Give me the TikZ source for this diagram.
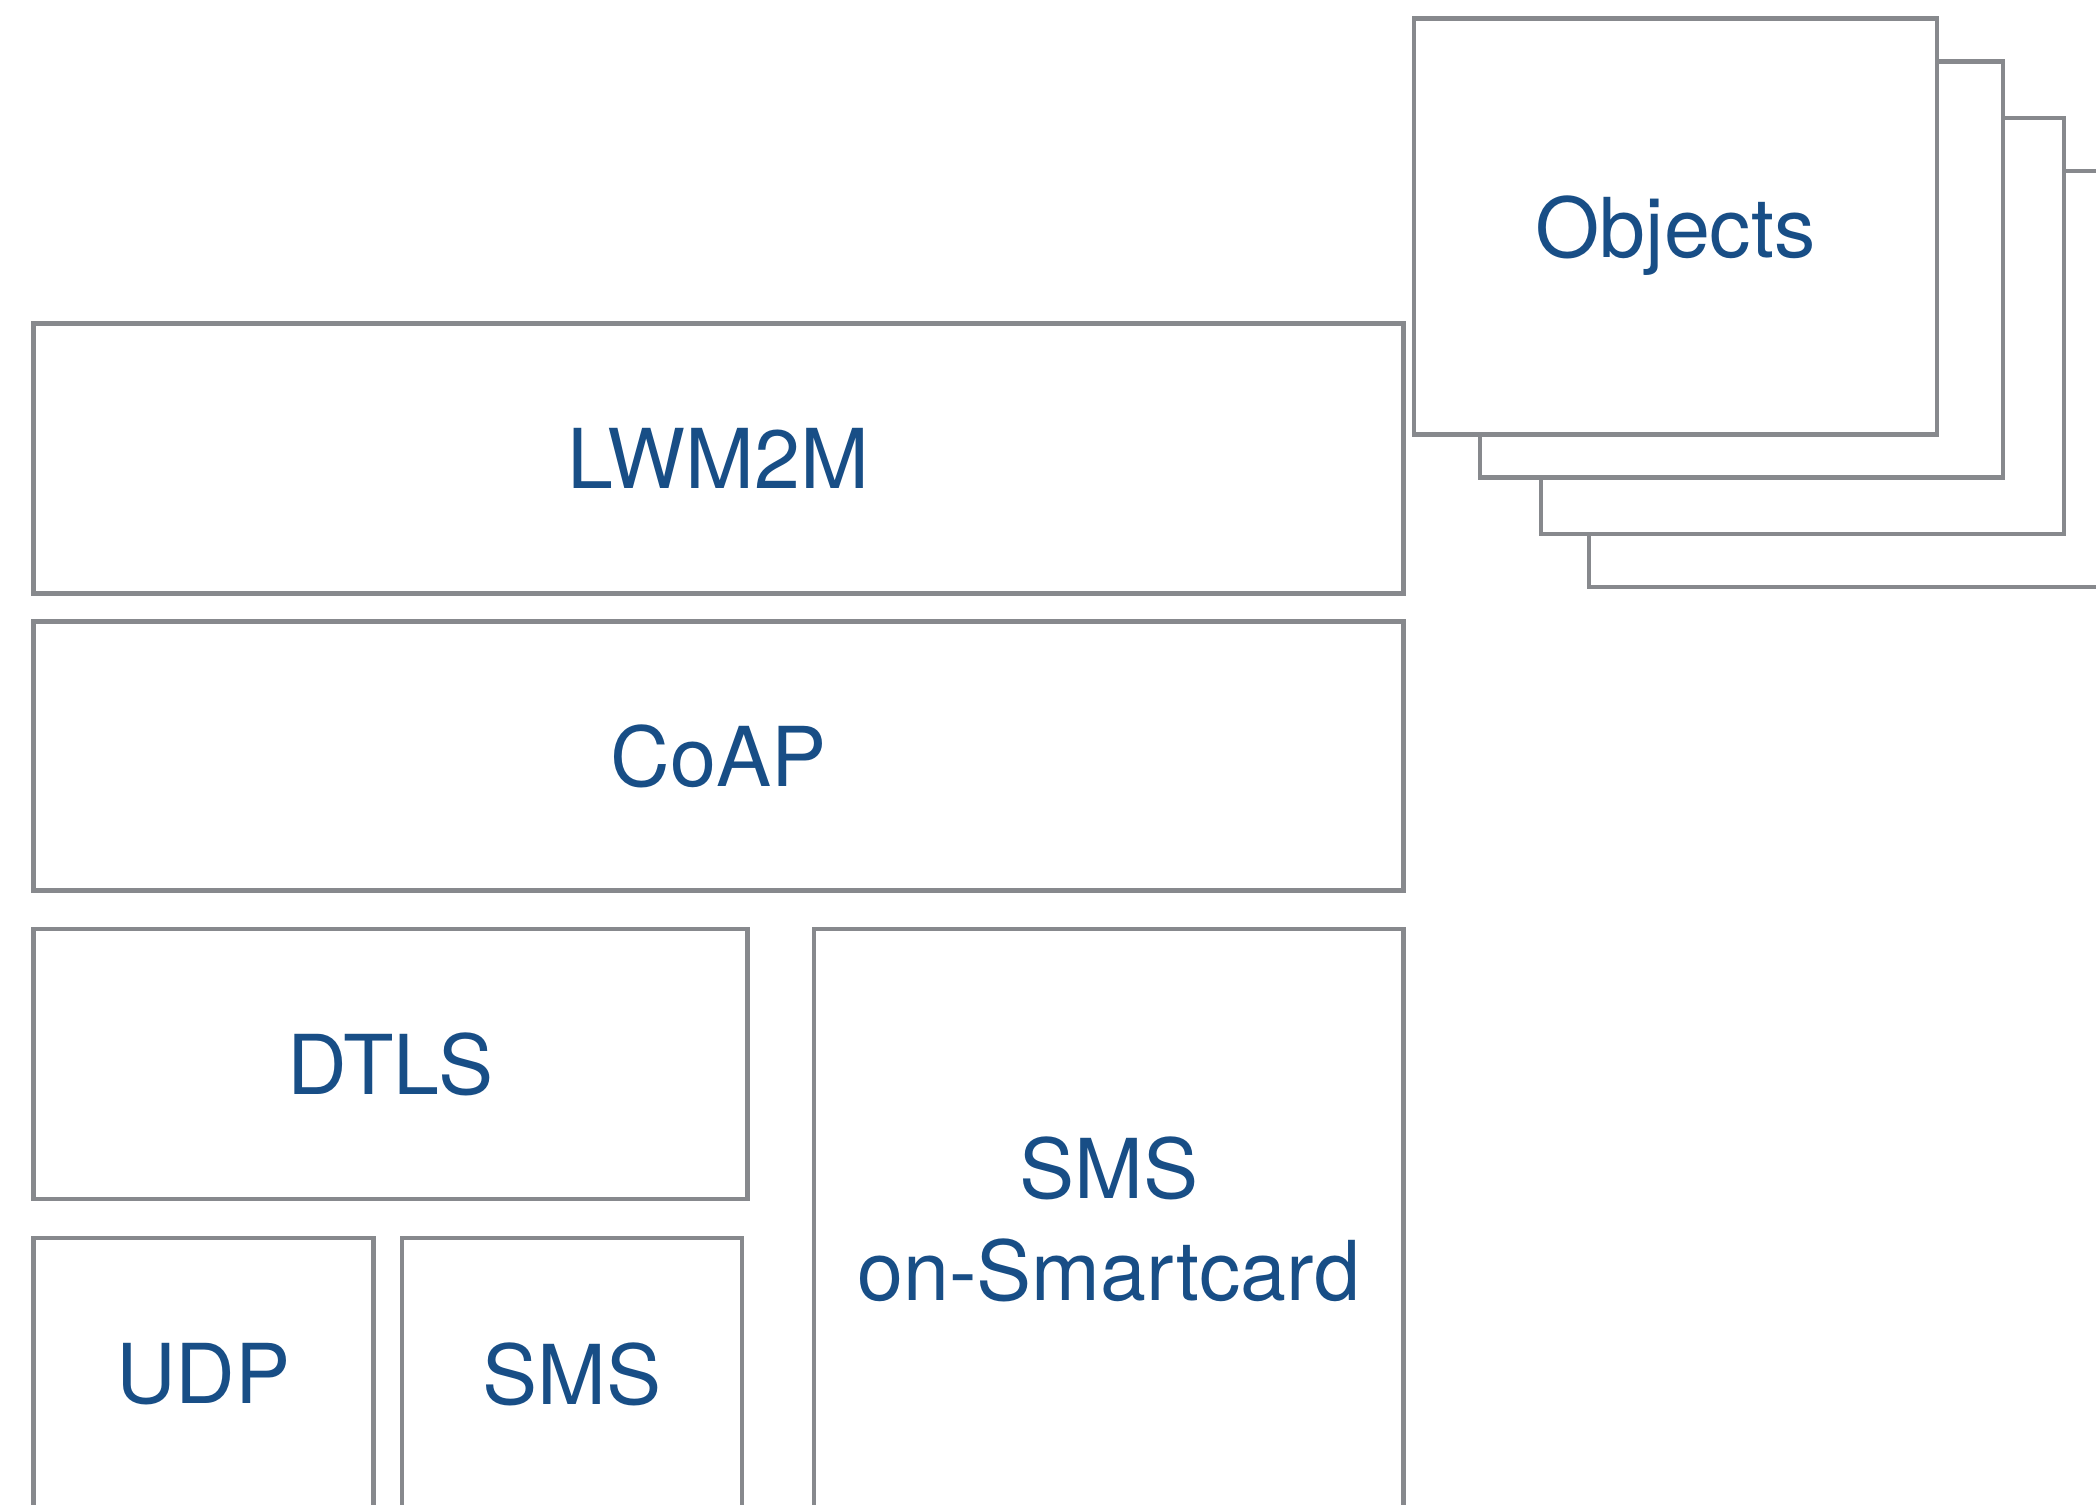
\documentclass[tikz,border=0pt]{standalone}
\usepackage{fontspec}
\setmainfont{TeX Gyre Heros}
\usepackage{tikz}
\definecolor{layergray}{RGB}{135,137,141}
\definecolor{layerblue}{RGB}{24,78,134}

\begin{document}
\begin{tikzpicture}[
    layer/.style={draw=layergray, line width=1.4pt, fill=white, inner sep=0pt, outer sep=0pt,
        anchor=north west, text=layerblue, align=center,
        font=\fontsize{23.5}{29}\selectfont},
]
    \useasboundingbox (0,0) rectangle (20.96,-15.04);
    \clip (0,0) rectangle (20.96,-15.04);

    % Stack of objects, back to front
    \node[layer, minimum width=5.23cm, minimum height=4.16cm] (obj4) at (15.89,-1.71) {};
    \node[layer, minimum width=5.23cm, minimum height=4.16cm] (obj3) at (15.41,-1.18) {};
    \node[layer, minimum width=5.23cm, minimum height=4.16cm] (obj2) at (14.80,-0.615) {};
    \node[layer, minimum width=5.23cm, minimum height=4.16cm, text depth=0pt] (obj1) at (14.14,-0.187) {Objects};

    % Upper layers
    \node[layer, minimum width=13.70cm, minimum height=2.70cm] (lwm2m) at (0.334,-3.235) {LWM2M};
    \node[layer, minimum width=13.70cm, minimum height=2.69cm] (coap) at (0.334,-6.216) {CoAP};

    % Security and transports
    \node[layer, minimum width=7.14cm, minimum height=2.70cm] (dtls) at (0.334,-9.29) {DTLS};
    \node[layer, minimum width=3.40cm, minimum height=2.72cm] (udp) at (0.334,-12.38) {UDP};
    \node[layer, minimum width=3.40cm, minimum height=2.72cm] (sms) at (4.02,-12.38) {SMS};
    \node[layer, minimum width=5.895cm, minimum height=5.81cm] (smartcard) at (8.14,-9.29) {SMS\\on-Smartcard};
\end{tikzpicture}
\end{document}
